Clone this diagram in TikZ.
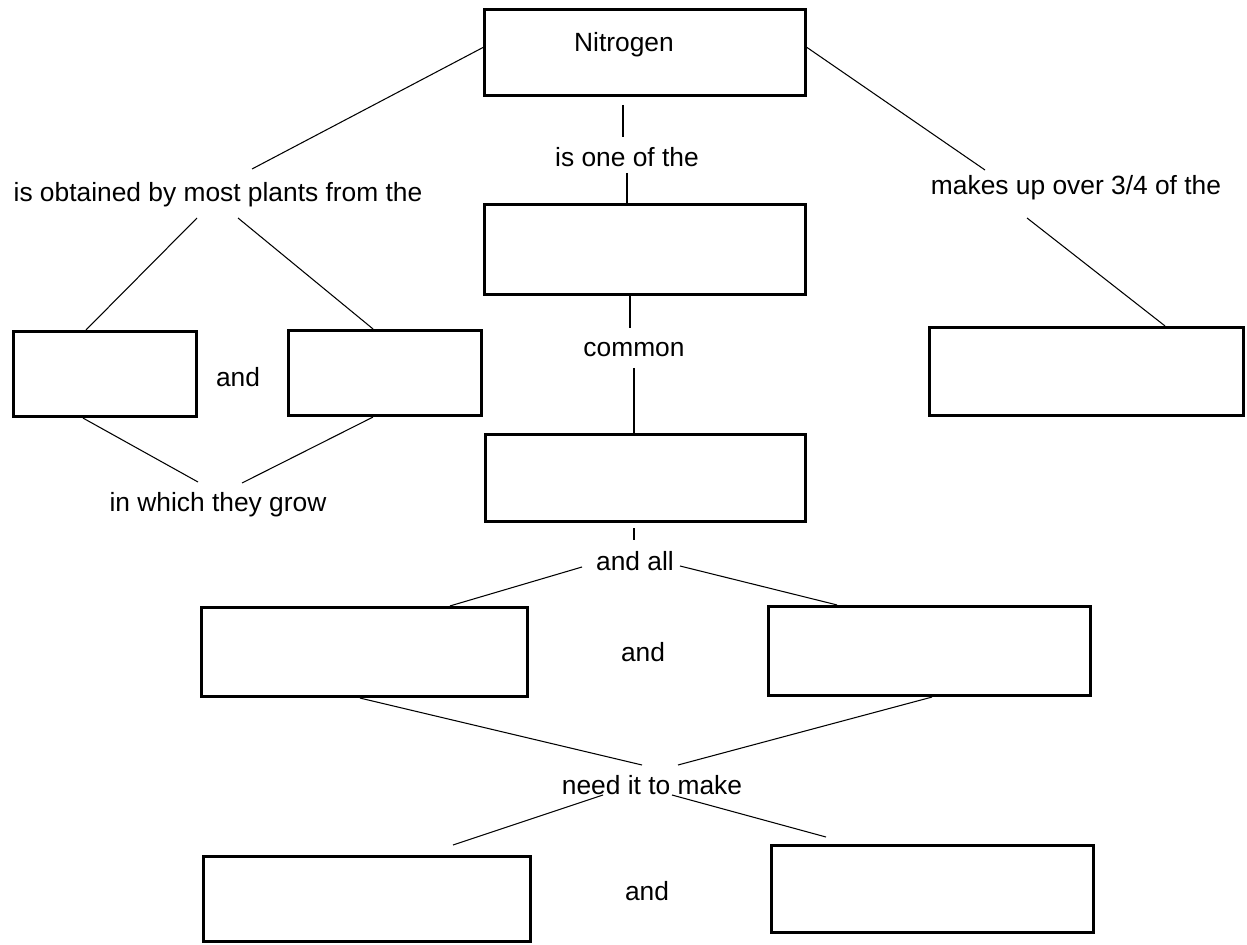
\documentclass[tikz,border=0pt]{standalone}
\usepackage{fontspec}
\setmainfont{Liberation Sans}
\tikzset{auto, minimum size=0pt, font=\fontsize{15}{18}\selectfont}
\tikzstyle{block} = [draw, line width=1.5pt, fill=white, rectangle]
\tikzstyle{phrase} = [inner sep=0pt]
\tikzstyle{link} = [draw, line width=0.6pt]

\begin{document}
\begin{tikzpicture}[x=0.02cm, y=-0.02cm]
    \useasboundingbox (0,0) rectangle (1247,945);

    \node [block, minimum width=6.43cm, minimum height=1.73cm] (nitro) at (645,52.5) {};
    \node [block, minimum width=6.43cm, minimum height=1.81cm] (elem) at (645,249.5) {};
    \node [block, minimum width=6.41cm, minimum height=1.75cm] (gas) at (645.5,478) {};
    \node [block, minimum width=3.67cm, minimum height=1.71cm] (soilA) at (105,374) {};
    \node [block, minimum width=3.87cm, minimum height=1.71cm] (soilB) at (385,373) {};
    \node [block, minimum width=6.29cm, minimum height=1.77cm] (air) at (1086.5,371.5) {};
    \node [block, minimum width=6.53cm, minimum height=1.79cm] (plants) at (364.5,652) {};
    \node [block, minimum width=6.45cm, minimum height=1.79cm] (animals) at (929.5,651) {};
    \node [block, minimum width=6.55cm, minimum height=1.71cm] (prot) at (367,899) {};
    \node [block, minimum width=6.45cm, minimum height=1.75cm] (dna) at (932.5,889) {};

    \node [phrase] (lnit) at (624,45) {Nitrogen};
    \node [phrase] (lobt) at (218,195) {is obtained by most plants from the};
    \node [phrase] (lone) at (627,157) {is one of the};
    \node [phrase] (lmake) at (1076,188) {makes up over 3/4 of the};
    \node [phrase] (land1) at (238,377) {and};
    \node [phrase] (lcom) at (634,350) {common};
    \node [phrase] (lgrow) at (218,505) {in which they grow};
    \node [phrase] (lall) at (635,561) {and all};
    \node [phrase] (land2) at (643,652) {and};
    \node [phrase] (lneed) at (652,785) {need it to make};
    \node [phrase] (land3) at (647,891) {and};

    \coordinate (obt_up) at (252,169);
    \coordinate (obt_dl) at (197,218);
    \coordinate (obt_dr) at (238,218);
    \coordinate (make_up) at (985,170);
    \coordinate (make_dn) at (1027,218);
    \coordinate (one_up) at (623,105);
    \coordinate (one_mid) at (623,137);
    \coordinate (one_dn) at (627,173);
    \coordinate (com_up) at (630,328);
    \coordinate (com_dn) at (634,368);
    \coordinate (grow_l) at (198,482);
    \coordinate (grow_r) at (242,483);
    \coordinate (all_up) at (634,540);
    \coordinate (all_l) at (582,567);
    \coordinate (all_r) at (680,566);
    \coordinate (need_ul) at (642,765);
    \coordinate (need_ur) at (678,765);
    \coordinate (need_dl) at (603,795);
    \coordinate (need_dr) at (672,795);
    \coordinate (prot_up) at (453,845);
    \coordinate (dna_up) at (826,837);

    \draw [link] ([yshift=0.1cm]nitro.west) -- (obt_up);
    \draw [link] ([yshift=0.1cm]nitro.east) -- (make_up);
    \draw [link] (one_up) -- (one_mid);
    \draw [link] (one_dn) -- (one_dn |- elem.north);
    \draw [link] (obt_dl) -- ([xshift=-0.38cm]soilA.north);
    \draw [link] (obt_dr) -- ([xshift=-0.24cm]soilB.north);
    \draw [link] (make_dn) -- ([xshift=1.57cm]air.north);
    \draw [link] (com_up |- elem.south) -- (com_up);
    \draw [link] (com_dn) -- (com_dn |- gas.north);
    \draw [link] ([xshift=-0.44cm]soilA.south) -- (grow_l);
    \draw [link] ([xshift=-0.24cm]soilB.south) -- (grow_r);
    \draw [link, shorten <=0.1cm] (all_up |- gas.south) -- (all_up);
    \draw [link] (all_l) -- ([xshift=1.71cm]plants.north);
    \draw [link] (all_r) -- ([xshift=-1.85cm]animals.north);
    \draw [link] ([xshift=-0.09cm]plants.south) -- (need_ul);
    \draw [link] ([xshift=0.05cm]animals.south) -- (need_ur);
    \draw [link] (need_dl) -- (prot_up);
    \draw [link] (need_dr) -- (dna_up);
\end{tikzpicture}
\end{document}
